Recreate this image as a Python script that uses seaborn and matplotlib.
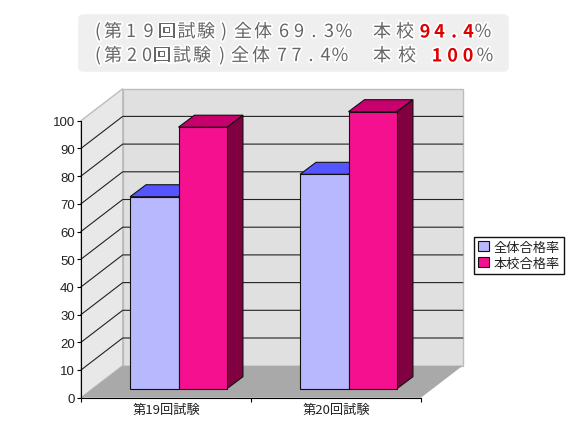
import matplotlib
matplotlib.use("Agg")
import matplotlib.pyplot as plt
import matplotlib.patheffects as pe
from matplotlib.patches import Patch, Polygon, FancyBboxPatch
from matplotlib.transforms import IdentityTransform, Affine2D
import pandas as pd
import seaborn as sns

exams = ["第19回試験", "第20回試験"]
overall = [69.3, 77.4]
school = [94.4, 100]
series_names = ["全体合格率", "本校合格率"]
y_ticks = list(range(0, 101, 10))

# header rows: (text, first x, step, colour, bold)
row1 = [("(", 98, 0, "#666666", False), ("第", 113, 0, "#666666", False), ("19", 131, 17.5, "#666666", False),
        ("回試験", 167, 19.5, "#666666", False), (")", 224, 0, "#666666", False), ("全体", 243, 20, "#666666", False),
        ("69.3%", 284, 15, "#666666", False), ("本校", 382, 23, "#666666", False),
        ("94.4", 425, 14.5, "#dd0000", True), ("%", 483, 0, "#666666", False)]
row2 = [("(", 98, 0, "#666666", False), ("第", 113, 0, "#666666", False), ("20", 132, 15, "#666666", False),
        ("回試験", 162, 20, "#666666", False), (")", 222, 0, "#666666", False), ("全体", 240, 21, "#666666", False),
        ("77.4%", 282, 14.5, "#666666", False), ("本校", 382, 25, "#666666", False),
        ("100", 437, 15.5, "#dd0000", True), ("%", 485, 0, "#666666", False)]

plt.rcParams["font.family"] = ["Noto Sans CJK JP", "DejaVu Sans"]
W, H = 580, 435
fig = plt.figure(figsize=(5.8, 4.35), dpi=100)
ax = fig.add_axes([81 / W, 1 - 398.7 / H, 340 / W, 277 / H])
ax.patch.set_visible(False)

df = pd.DataFrame({
    "exam": exams * 2,
    "rate": overall + school,
    "series": [series_names[0]] * 2 + [series_names[1]] * 2,
})
sns.barplot(data=df, x="exam", y="rate", hue="series", ax=ax, width=0.57, gap=0, saturation=1,
            palette=["#b8b8ff", "#f5108f"], edgecolor="#111111", linewidth=0.8,
            legend=False, zorder=5)
ax.set_xlim(-0.5, 1.5)
ax.set_ylim(0, 100)
ax.set_xlabel("")
ax.set_ylabel("")
ax.set_xticks([-0.5, 0.5, 1.5], labels=[])
ax.set_yticks(y_ticks)
ax.set_yticklabels(y_ticks, fontsize=9.5, family="Liberation Sans", color="#222222")
ax.tick_params(axis="both", length=3, width=0.8, pad=1.5)
for side in ["top", "right"]:
    ax.spines[side].set_visible(False)

px = IdentityTransform()
fig.canvas.draw()
to_px = ax.transData.transform
DX, DY = 41.7, 32  # wall depth


def poly(points, color, z, edge="none", lw=0.0):
    ax.add_patch(Polygon(points, closed=True, facecolor=color, edgecolor=edge, linewidth=lw,
                         transform=px, clip_on=False, zorder=z))


# walls and floor
x0, y0 = to_px((-0.5, 0))
x1, _ = to_px((1.5, 0))
_, ytop = to_px((-0.5, 100))
poly([(x0, y0), (x0, ytop), (x0 + DX, ytop + DY), (x0 + DX, y0 + DY)], "#e8e8e8", 1, "#bdbdbd", 1)
poly([(x0 + DX, y0 + DY), (x0 + DX, ytop + DY), (x1 + DX, ytop + DY), (x1 + DX, y0 + DY)], "#e0e0e0", 1, "#bdbdbd", 1)
poly([(x0, y0), (x1, y0), (x1 + DX, y0 + DY), (x0 + DX, y0 + DY)], "#a9a9a9", 1.5)

# grid runs along the left wall and then across the back wall
for t in y_ticks[1:-1]:
    _, yt = to_px((-0.5, t))
    ax.plot([x0, x0 + DX, x1 + DX], [yt, yt + DY, yt + DY], color="#222222", lw=0.8,
            transform=px, clip_on=False, zorder=2)

# bars: shift the front faces into the box, then add the top and side faces
BX, BY, BD, BH = 12.5, 9, 16, 12
tops = ["#5555ff", "#c8006e"]
sides = ["#5555aa", "#800040"]
for i, cont in enumerate(ax.containers):
    for bar in cont:
        l, b = to_px((bar.get_x(), 0))
        r, t = to_px((bar.get_x() + bar.get_width(), bar.get_height()))
        bar.set_transform(ax.transData + Affine2D().translate(BX, BY))
        bar.set_clip_on(False)
        l, r, t, b = l + BX, r + BX, t + BY, b + BY
        z = 3 + i
        poly([(l, t), (r, t), (r + BD, t + BH), (l + BD, t + BH)], tops[i], z, "#111111", 0.8)
        poly([(r, b), (r, t), (r + BD, t + BH), (r + BD, b + BH)], sides[i], z, "#111111", 0.8)

# category labels sit between the ticks
for i, name in enumerate(exams):
    ax.text(i, -0.02, name, transform=ax.get_xaxis_transform(), ha="center", va="top", fontsize=9.5,
            color="#222222")

handles = [Patch(facecolor="#b8b8ff", edgecolor="#111111", linewidth=0.8),
           Patch(facecolor="#f5108f", edgecolor="#111111", linewidth=0.8)]
ax.legend(handles, series_names, loc="upper left", bbox_to_anchor=(474 / W, 1 - 238 / H),
          bbox_transform=fig.transFigure, fancybox=False, framealpha=1, edgecolor="#111111",
          fontsize=9.5, borderaxespad=0, borderpad=0.3, handlelength=0.8, handleheight=0.8,
          handletextpad=0.4, labelspacing=0.2, labelcolor="#222222")

# header box
fig.add_artist(FancyBboxPatch((81 / W, 1 - 70 / H), 425 / W, 52 / H,
                              boxstyle="round,pad=0,rounding_size=0.004", facecolor="#efefef",
                              edgecolor="#efefef", linewidth=4, transform=fig.transFigure))
halo = [pe.withStroke(linewidth=2.5, foreground="white")]
for row, y in ((row1, 33), (row2, 57)):
    for text, start, step, color, bold in row:
        for k, ch in enumerate(text):
            fig.text((start + k * step) / W, 1 - y / H, ch, ha="center", va="center", fontsize=13,
                     color=color, fontweight="bold" if bold else "normal", path_effects=halo)

fig.savefig("out.png", dpi=100)
